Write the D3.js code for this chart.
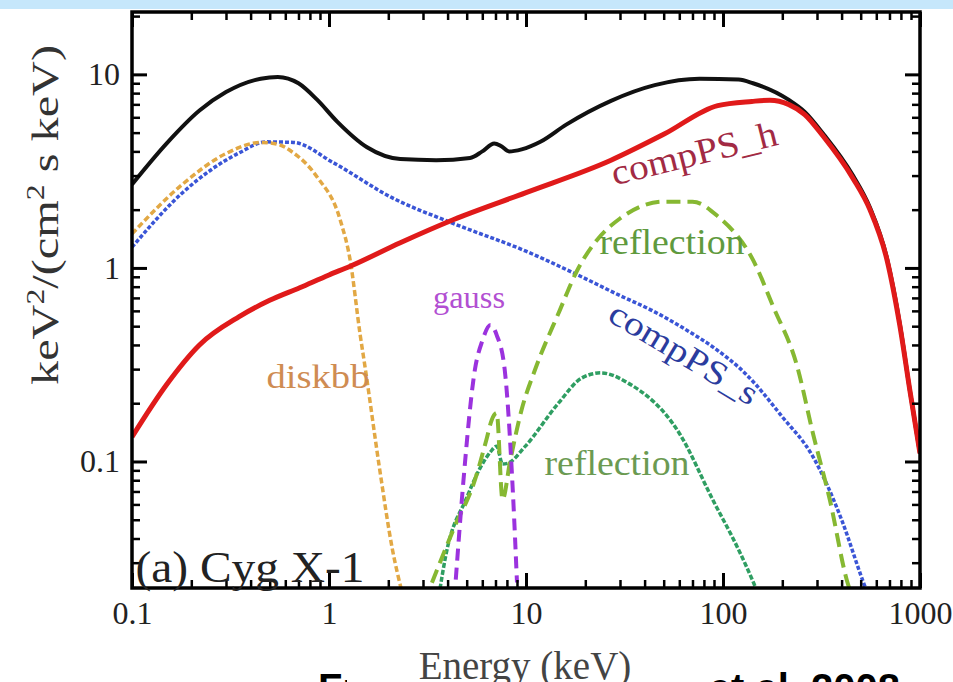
<!DOCTYPE html>
<html>
<head>
<meta charset="utf-8">
<script src="https://cdn.jsdelivr.net/npm/d3@7"></script>
<style>
  body { margin: 0; background: #fff; }
  svg { display: block; }
</style>
</head>
<body>
<div id="chart"></div>
<script>
// values (energy in keV, E^2 F(E) in keV^2/(cm^2 s keV))
var totalE = [0.1, 0.15, 0.22, 0.3, 0.45, 0.55, 0.7, 0.87, 1.1, 1.56, 2.3, 3.5, 5.2, 6.0, 6.9, 7.5, 8.2, 9.5, 11.9, 16, 27, 45, 76, 120, 142, 215, 260, 322, 457, 557, 680, 791, 890, 1000];
var totalF = [2.7, 4.4, 6.5, 8.1, 9.5, 9.7, 9.0, 7.4, 5.7, 4.2, 3.65, 3.6, 3.7, 4.0, 4.4, 4.25, 4.0, 4.1, 4.5, 5.5, 7.3, 8.8, 9.5, 9.4, 9.0, 7.4, 6.4, 4.95, 3.0, 2.05, 1.12, 0.51, 0.23, 0.11];

var hardE = [0.1, 0.15, 0.22, 0.35, 0.5, 0.71, 1.0, 1.28, 2.3, 4.3, 10, 27, 50, 94, 140, 173, 215, 260, 322, 457, 557, 680, 791, 890, 1000];
var hardF = [0.134, 0.25, 0.4, 0.56, 0.68, 0.79, 0.92, 1.02, 1.35, 1.78, 2.45, 3.6, 4.9, 6.9, 7.25, 7.35, 7.0, 6.2, 4.8, 2.9, 2.0, 1.1, 0.5, 0.23, 0.11];

var softE = [0.1, 0.18, 0.35, 0.48, 0.66, 1.05, 2.1, 4.26, 10, 17.9, 30, 44, 67, 89, 132, 200, 286, 400, 514, 540];
var softF = [1.28, 2.44, 3.93, 4.48, 4.45, 3.5, 2.3, 1.7, 1.22, 0.93, 0.72, 0.6, 0.47, 0.39, 0.28, 0.17, 0.106, 0.05, 0.024, 0.021];

var diskE = [0.1, 0.18, 0.3, 0.45, 0.55, 0.66, 0.87, 1.14, 1.28, 1.44, 1.53, 1.8, 2.1, 2.35];
var diskF = [1.5, 2.7, 3.9, 4.45, 4.35, 3.93, 2.95, 1.77, 1.1, 0.45, 0.3, 0.094, 0.035, 0.021];

var gaussE = [4.4, 4.8, 5.5, 6.0, 6.6, 7.1, 7.8, 8.6, 9.0];
var gaussF = [0.0245, 0.077, 0.297, 0.42, 0.507, 0.45, 0.297, 0.066, 0.0237];

var reflBigE = [3.33, 4.3, 5.5, 6.3, 6.7, 7.1, 7.6, 8.3, 9.5, 11.1, 14.8, 18, 23, 30, 50, 70, 94, 142, 180, 238, 286, 349, 427, 445];
var reflBigF = [0.0236, 0.045, 0.08, 0.13, 0.164, 0.178, 0.0636, 0.1, 0.185, 0.297, 0.6, 0.95, 1.4, 1.8, 2.2, 2.2, 1.85, 1.1, 0.63, 0.31, 0.14, 0.063, 0.024, 0.021];

var reflSmallE = [3.66, 3.9, 5.0, 5.9, 6.6, 7.1, 7.6, 8.1, 9.85, 14.6, 19.2, 24, 33, 60, 89, 120, 142, 150];
var reflSmallF = [0.022, 0.032, 0.065, 0.094, 0.112, 0.12, 0.097, 0.098, 0.119, 0.2, 0.27, 0.287, 0.254, 0.14, 0.063, 0.035, 0.024, 0.021];

var xMajor = [0.1, 1, 10, 100, 1000];
var yMajor = [0.1, 1, 10];

var width = 953, height = 682;
var plot = {left: 132, right: 920, top: 12, bottom: 588};

var svg = d3.select('#chart').append('svg')
  .attr('width', width)
  .attr('height', height)
  .attr('viewBox', '0 0 ' + width + ' ' + height);

var serif = '"Liberation Serif", "Times New Roman", serif';

// slide strip at the very top
svg.append('rect')
  .attr('x', 0).attr('y', 0)
  .attr('width', width).attr('height', 9)
  .attr('fill', '#c6e7fb');

// slide caption underneath, mostly hidden by the figure
svg.append('text')
  .attr('x', 318).attr('y', 702)
  .style('font-family', '"Liberation Sans", Arial, sans-serif')
  .style('font-weight', 'bold')
  .style('font-size', '40px')
  .attr('fill', '#000')
  .text('From Makishima');
svg.append('text')
  .attr('x', 900).attr('y', 702)
  .attr('text-anchor', 'end')
  .style('font-family', '"Liberation Sans", Arial, sans-serif')
  .style('font-weight', 'bold')
  .style('font-size', '40px')
  .attr('fill', '#000')
  .text('et al. 2008');
svg.append('rect')
  .attr('x', 347).attr('y', 630)
  .attr('width', 355).attr('height', 60)
  .attr('fill', '#fff');

var x = d3.scaleLog().domain([0.1, 1000]).range([plot.left, plot.right]);
var y = d3.scaleLog().domain([0.0222, 21]).range([plot.bottom, plot.top]);

var xMinor = [], yMinor = [];
[-1, 0, 1, 2].forEach(function(k) {
  for (var m = 2; m <= 9; m++) xMinor.push(m * Math.pow(10, k));
});
[-2, -1, 0, 1].forEach(function(k) {
  for (var m = 2; m <= 9; m++) {
    var v = m * Math.pow(10, k);
    if (v > 0.0222 && v < 21) yMinor.push(v);
  }
});

svg.append('defs').append('clipPath').attr('id', 'plot-clip')
  .append('rect')
  .attr('x', plot.left).attr('y', plot.top)
  .attr('width', plot.right - plot.left)
  .attr('height', plot.bottom - plot.top);

var line = d3.line()
  .x(function(d) { return x(d[0]); })
  .y(function(d) { return y(d[1]); })
  .curve(d3.curveMonotoneX);

var series = [
  {e: totalE, f: totalF, color: '#111', w: 4, dash: null},
  {e: softE, f: softF, color: '#3a55d6', w: 3.5, dash: '4,2'},
  {e: diskE, f: diskF, color: '#e2a844', w: 3.5, dash: '6,3'},
  {e: reflSmallE, f: reflSmallF, color: '#2f9e62', w: 3.5, dash: '5,2'},
  {e: reflBigE, f: reflBigF, color: '#86b832', w: 4, dash: '14,7'},
  {e: gaussE, f: gaussF, color: '#9b32de', w: 4, dash: '12,7'},
  {e: hardE, f: hardF, color: '#e01a1a', w: 5, dash: null}
];

var curves = svg.append('g').attr('clip-path', 'url(#plot-clip)');
series.forEach(function(s) {
  curves.append('path')
    .datum(d3.zip(s.e, s.f))
    .attr('d', line)
    .attr('fill', 'none')
    .attr('stroke', s.color)
    .attr('stroke-width', s.w)
    .attr('stroke-dasharray', s.dash)
    .attr('stroke-linejoin', 'round');
});

// axes: major and minor ticks on all four sides, pointing inward
function styleAxis(g, size) {
  g.select('.domain').remove();
  g.selectAll('.tick line').attr('stroke', '#000').attr('stroke-width', size > 10 ? 3 : 2.5);
  g.selectAll('.tick text')
    .style('font-family', serif)
    .style('font-size', '32px')
    .attr('fill', '#222');
}
var fmt = function(d) { return String(d); };
var none = function() { return ''; };

svg.append('g').attr('transform', 'translate(0,' + plot.bottom + ')')
  .call(d3.axisBottom(x).tickValues(xMajor).tickFormat(fmt).tickSize(-15).tickPadding(13))
  .call(styleAxis, 15);
svg.append('g').attr('transform', 'translate(0,' + plot.bottom + ')')
  .call(d3.axisBottom(x).tickValues(xMinor).tickFormat(none).tickSize(-8))
  .call(styleAxis, 8);
svg.append('g').attr('transform', 'translate(0,' + plot.top + ')')
  .call(d3.axisTop(x).tickValues(xMajor).tickFormat(none).tickSize(-15))
  .call(styleAxis, 15);
svg.append('g').attr('transform', 'translate(0,' + plot.top + ')')
  .call(d3.axisTop(x).tickValues(xMinor).tickFormat(none).tickSize(-8))
  .call(styleAxis, 8);
svg.append('g').attr('transform', 'translate(' + plot.left + ',0)')
  .call(d3.axisLeft(y).tickValues(yMajor).tickFormat(fmt).tickSize(-15).tickPadding(12))
  .call(styleAxis, 15);
svg.append('g').attr('transform', 'translate(' + plot.left + ',0)')
  .call(d3.axisLeft(y).tickValues(yMinor).tickFormat(none).tickSize(-8))
  .call(styleAxis, 8);
svg.append('g').attr('transform', 'translate(' + plot.right + ',0)')
  .call(d3.axisRight(y).tickValues(yMajor).tickFormat(none).tickSize(-15))
  .call(styleAxis, 15);
svg.append('g').attr('transform', 'translate(' + plot.right + ',0)')
  .call(d3.axisRight(y).tickValues(yMinor).tickFormat(none).tickSize(-8))
  .call(styleAxis, 8);

svg.append('rect')
  .attr('x', plot.left).attr('y', plot.top)
  .attr('width', plot.right - plot.left)
  .attr('height', plot.bottom - plot.top)
  .attr('fill', 'none')
  .attr('stroke', '#000')
  .attr('stroke-width', 3.5);

// curve labels
function label(txt, px, py, size, color, len, angle) {
  var t = svg.append('text')
    .attr('x', px).attr('y', py)
    .attr('text-anchor', 'middle')
    .style('font-family', serif)
    .style('font-size', size + 'px')
    .attr('fill', color)
    .text(txt);
  if (len) t.attr('textLength', len).attr('lengthAdjust', 'spacingAndGlyphs');
  if (angle) t.attr('transform', 'rotate(' + angle + ',' + px + ',' + py + ')');
  return t;
}

label('compPS_h', 697, 165, 36, '#a22a44', 170, -14);
label('reflection', 672, 254, 36, '#5f9a3e', 145);
label('gauss', 469, 308, 32, '#b24fd2', 72);
label('compPS_s', 678, 363, 34, '#2b3c9e', 168, 31);
label('diskbb', 318, 388, 34, '#cf8c52', 103);
label('reflection', 617, 475, 36, '#6b9a52', 145);
label('(a) Cyg X-1', 250, 582, 44, '#222', 229);

// axis titles
var yt = svg.append('text')
  .attr('transform', 'translate(58,215) rotate(-90)')
  .attr('text-anchor', 'middle')
  .style('font-family', serif)
  .style('font-size', '38px')
  .attr('fill', '#333')
  .attr('textLength', 340)
  .attr('lengthAdjust', 'spacingAndGlyphs');
yt.append('tspan').text('keV');
yt.append('tspan').attr('dy', -14).style('font-size', '25px').text('2');
yt.append('tspan').attr('dy', 14).text('/(cm');
yt.append('tspan').attr('dy', -14).style('font-size', '25px').text('2');
yt.append('tspan').attr('dy', 14).text(' s keV)');

svg.append('text')
  .attr('x', 525).attr('y', 679)
  .attr('text-anchor', 'middle')
  .style('font-family', serif)
  .style('font-size', '39px')
  .attr('fill', '#444')
  .text('Energy (keV)');
</script>
</body>
</html>
